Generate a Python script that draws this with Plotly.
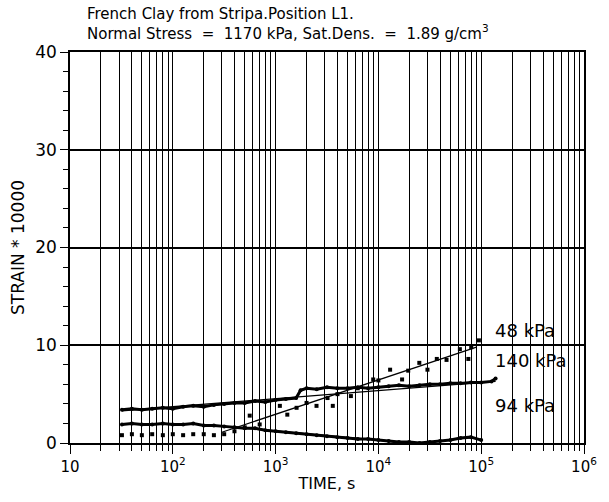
import math
import plotly.graph_objects as go

# Creep test, French clay from Stripa (position L1)
# --- measured strain (x 10000) vs. time (s) for three shear stress levels ---
t_140 = [32, 40, 50, 63, 80, 100, 126, 158, 200, 251, 316, 398, 501, 631, 794,
         1000, 1259, 1585, 1750, 2000, 2512, 3162, 3981, 5012, 6310, 7943,
         10000, 12589, 15849, 19953, 25119, 31623, 39811, 50119, 63096, 79433,
         100000, 125893, 138000]
y_140 = [3.4, 3.5, 3.4, 3.5, 3.6, 3.5, 3.7, 3.8, 3.7, 3.9, 4.0, 4.1, 4.1, 4.3, 4.2,
         4.4, 4.5, 4.6, 5.4, 5.6, 5.5, 5.7, 5.6, 5.6, 5.7, 5.6,
         5.7, 5.8, 5.9, 5.8, 5.9, 6.0, 6.0, 6.1, 6.1, 6.2, 6.2, 6.3, 6.6]

t_94 = [32, 40, 50, 63, 80, 100, 126, 158, 200, 251, 316, 398, 501, 631, 794,
        1000, 1259, 1585, 2000, 2512, 3162, 3981, 5012, 6310, 7943, 10000,
        12589, 15849, 19953, 25119, 31623, 39811, 50119, 63096, 79433, 100000]
y_94 = [1.9, 2.0, 1.9, 1.9, 2.0, 1.9, 1.9, 2.0, 1.8, 1.8, 1.7, 1.6, 1.5, 1.5, 1.3,
        1.2, 1.1, 1.0, 0.9, 0.8, 0.7, 0.6, 0.5, 0.4, 0.4, 0.3,
        0.2, 0.1, 0.1, 0.0, 0.1, 0.2, 0.3, 0.5, 0.6, 0.3]

t_48 = [32, 40, 50, 63, 80, 100, 126, 158, 200, 251, 316, 398, 501, 560, 700,
        1100, 1300, 1600, 2000, 2500, 3200, 3600, 4000, 5400, 6300, 8900,
        10000, 13000, 17000, 19500, 25000, 30000, 37000, 46000, 62000, 75000,
        80000, 95000]
y_48 = [0.8, 0.9, 0.8, 0.9, 0.8, 0.9, 0.8, 0.9, 0.9, 0.8, 0.9, 1.2, 1.6, 2.8, 1.9,
        3.8, 2.9, 3.6, 4.1, 3.8, 4.6, 3.8, 5.0, 4.8, 5.6, 6.5,
        6.4, 7.5, 6.5, 7.4, 8.2, 7.5, 8.6, 8.5, 9.6, 8.6, 9.8, 10.5]

# --- fitted straight lines (strain vs. log time) ---
fit_t_140 = [32, 138000]
fit_y_140 = [3.3, 6.3]
fit_t_94 = [250, 20000]
fit_y_94 = [1.8, 0.0]
fit_t_48 = [300, 90000]
fit_y_48 = [1.1, 9.8]

# curve labels: text, time position, strain position
labels = [("48 kPa", 130000, 11.5), ("140 kPa", 130000, 8.45), ("94 kPa", 130000, 3.8)]

# axis ticks
decades = [10, 100, 1000, 10000, 100000, 1000000]
decade_text = ["10", "10<sup>2</sup>", "10<sup>3</sup>", "10<sup>4</sup>",
               "10<sup>5</sup>", "10<sup>6</sup>"]
minor_vals = [m * d for d in decades[:-1] for m in range(2, 10)]

FONT = "DejaVu Sans, Liberation Sans, Arial"

fig = go.Figure()

for t, y in ((t_140, y_140), (t_94, y_94)):
    fig.add_trace(go.Scatter(x=t, y=y, mode="lines+markers",
                             line=dict(color="black", width=3),
                             marker=dict(color="black", size=4),
                             showlegend=False))
fig.add_trace(go.Scatter(x=t_48, y=y_48, mode="markers",
                         marker=dict(color="black", size=4, symbol="square"),
                         showlegend=False))
for t, y in ((fit_t_140, fit_y_140), (fit_t_94, fit_y_94), (fit_t_48, fit_y_48)):
    fig.add_trace(go.Scatter(x=t, y=y, mode="lines",
                             line=dict(color="black", width=1.3),
                             showlegend=False))

for text, tx, ty in labels:
    fig.add_annotation(x=math.log10(tx), y=ty, text=text, showarrow=False,
                       xanchor="left", yanchor="middle",
                       font=dict(family=FONT, size=18, color="black"))

# two-line heading above the plot frame
fig.add_annotation(xref="paper", yref="paper", x=0.03, y=1.125,
                   xanchor="left", yanchor="top", align="left", showarrow=False,
                   text="French Clay from Stripa.Position L1.<br>"
                        "Normal Stress&nbsp; = &nbsp;1170 kPa, Sat.Dens.&nbsp; = &nbsp;1.89 g/cm<sup>3</sup>",
                   font=dict(family=FONT, size=15, color="black"))

fig.update_layout(
    width=609, height=502,
    margin=dict(l=70, r=16, t=52, b=57),
    paper_bgcolor="white", plot_bgcolor="white",
    font=dict(family=FONT, size=15, color="black"),
)

fig.update_xaxes(
    type="log", range=[1, 6],
    tickvals=decades, ticktext=decade_text,
    ticks="outside", ticklen=9, tickcolor="black", tickwidth=1.2,
    showgrid=True, gridcolor="black", gridwidth=1.2,
    minor=dict(tickvals=minor_vals, ticks="outside", ticklen=6, tickcolor="black",
               showgrid=True, gridcolor="black", gridwidth=1.2),
    showline=True, linecolor="black", linewidth=1.5, mirror=True,
    title=dict(text="TIME, s", standoff=3, font=dict(family=FONT, size=16)),
    tickfont=dict(family=FONT, size=15), zeroline=False,
)
fig.update_yaxes(
    range=[0, 40], dtick=10,
    ticks="outside", ticklen=8, tickcolor="black", tickwidth=1.2,
    showgrid=True, gridcolor="black", gridwidth=1.8,
    minor=dict(dtick=2, ticks="outside", ticklen=5, tickcolor="black", showgrid=False),
    showline=True, linecolor="black", linewidth=1.5, mirror=True,
    title=dict(text="STRAIN * 10000", standoff=6, font=dict(family=FONT, size=17)),
    tickfont=dict(family=FONT, size=17), zeroline=False,
)

fig.write_html("out.html")
